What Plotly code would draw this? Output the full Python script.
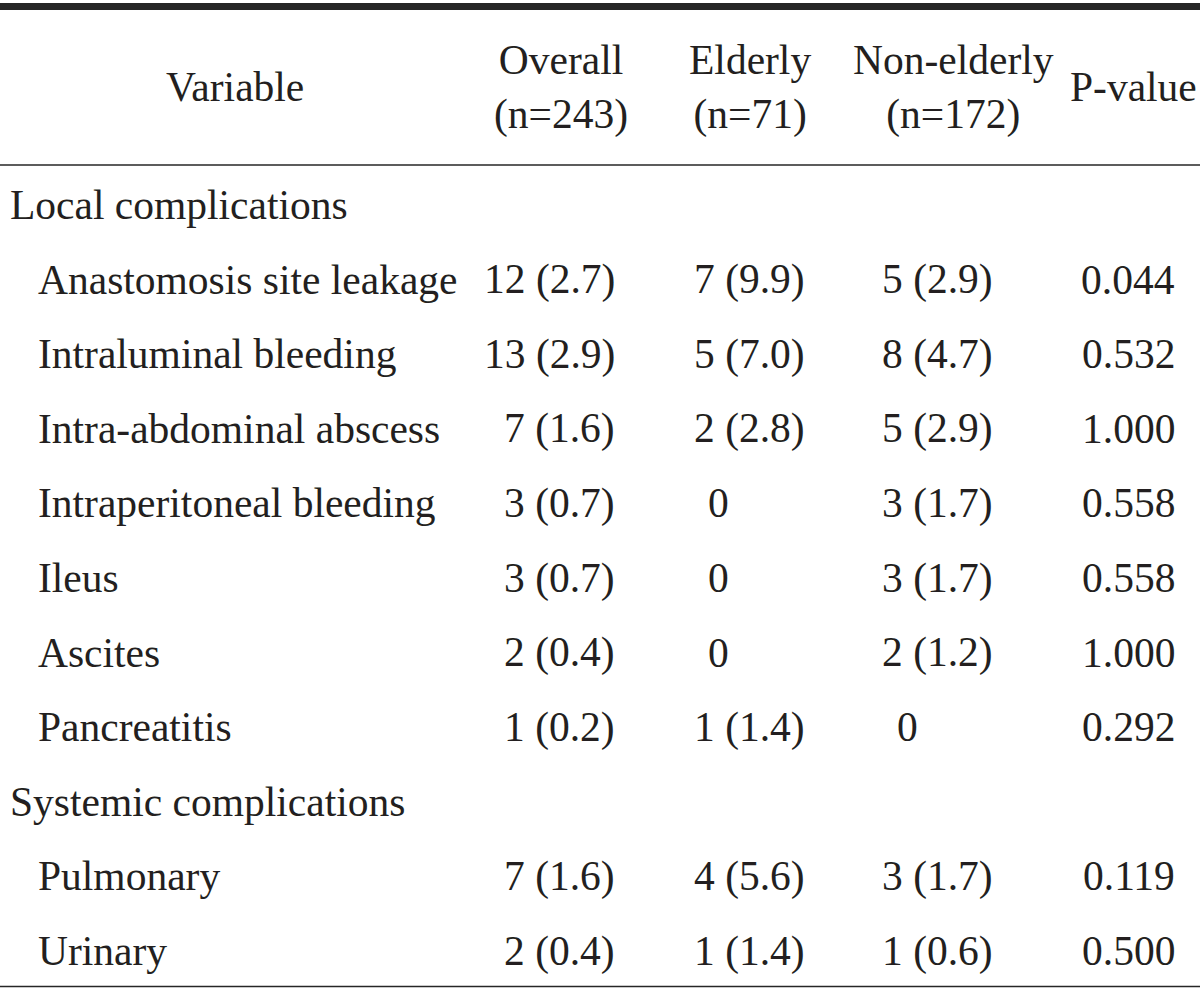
import plotly.graph_objects as go

# ---- data ----
variables = [
    "Local complications",
    "Anastomosis site leakage",
    "Intraluminal bleeding",
    "Intra-abdominal abscess",
    "Intraperitoneal bleeding",
    "Ileus",
    "Ascites",
    "Pancreatitis",
    "Systemic complications",
    "Pulmonary",
    "Urinary",
]
is_group = [True, False, False, False, False, False, False, False, True, False, False]
overall = ["", "12 (2.7)", "13 (2.9)", "7 (1.6)", "3 (0.7)", "3 (0.7)", "2 (0.4)", "1 (0.2)", "", "7 (1.6)", "2 (0.4)"]
elderly = ["", "7 (9.9)", "5 (7.0)", "2 (2.8)", "0", "0", "0", "1 (1.4)", "", "4 (5.6)", "1 (1.4)"]
non_elderly = ["", "5 (2.9)", "8 (4.7)", "5 (2.9)", "3 (1.7)", "3 (1.7)", "2 (1.2)", "0", "", "3 (1.7)", "1 (0.6)"]
p_values = ["", "0.044", "0.532", "1.000", "0.558", "0.558", "1.000", "0.292", "", "0.119", "0.500"]

headers = ["Variable", "Overall<br>(n=243)", "Elderly<br>(n=71)", "Non-elderly<br>(n=172)", "P-value"]

# ---- layout constants ----
W, H = 1200, 992
FONT = "Liberation Serif"
FS = 41.5
COLOR = "#231f20"
row0, row_step = 205, 74.6
header_x = [235, 561, 750, 953, 1133]
header_y = 87
value_right = [617, 807, 995, 1177]
zero_center = [None, 718, 907, None]

fig = go.Figure()
ann = []

def add(text, x, y, xanchor="left"):
    ann.append(dict(text=text, x=x, y=y, xref="x", yref="y", xanchor=xanchor,
                    yanchor="middle", showarrow=False,
                    font=dict(family=FONT, size=FS, color=COLOR)))

for hx, ht in zip(header_x, headers):
    add(ht, hx, header_y, "center")

for i, name in enumerate(variables):
    y = row0 + i * row_step
    add(name, 8 if is_group[i] else 36, y, "left")
    for c, col in enumerate([overall, elderly, non_elderly, p_values]):
        v = col[i]
        if not v:
            continue
        if v == "0" and zero_center[c] is not None:
            add(v, zero_center[c], y, "center")
        else:
            add(v, value_right[c], y, "right")

shapes = [
    dict(type="rect", xref="x", yref="y", x0=0, x1=W, y0=3, y1=10,
         fillcolor="#262626", line=dict(width=0)),
    dict(type="line", xref="x", yref="y", x0=0, x1=W, y0=165, y1=165,
         line=dict(color="#262626", width=1.5)),
    dict(type="line", xref="x", yref="y", x0=0, x1=W, y0=986.5, y1=986.5,
         line=dict(color="#262626", width=1.5)),
]

fig.update_layout(
    width=W, height=H,
    margin=dict(l=0, r=0, t=0, b=0),
    paper_bgcolor="white", plot_bgcolor="white",
    xaxis=dict(range=[0, W], visible=False, fixedrange=True),
    yaxis=dict(range=[H, 0], visible=False, fixedrange=True),
    annotations=ann, shapes=shapes, showlegend=False,
)

fig.write_html(
    "out.html",
    config={"displayModeBar": False},
    post_script="document.body.style.margin='0';document.body.style.overflow='hidden';",
)
